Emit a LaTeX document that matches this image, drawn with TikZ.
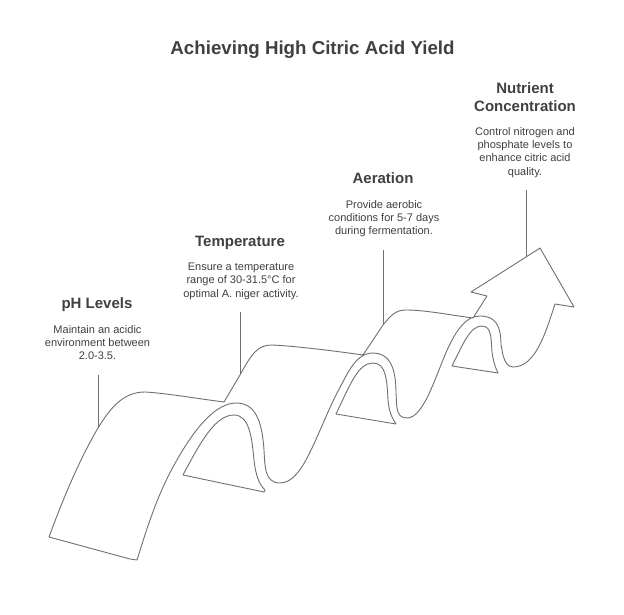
\documentclass[tikz,border=0pt]{standalone}
\usepackage{fontspec}
\setmainfont{Liberation Sans}
\definecolor{ink}{HTML}{404040}
\definecolor{stroke}{HTML}{707070}
\tikzset{
  headtext/.style={text=ink,font=\fontsize{15}{18}\selectfont\bfseries,align=center,inner sep=0pt,anchor=base},
  bodytext/.style={text=ink,font=\fontsize{11}{13.4}\selectfont,align=center,inner sep=0pt,anchor=north},
  ribbon/.style={draw=stroke,line width=0.9pt,line join=round},
  leader/.style={draw=stroke,line width=0.9pt}
}
\begin{document}
\begin{tikzpicture}[x=1pt,y=-1pt]
\useasboundingbox (0,0) rectangle (624,615);
\fill[white] (0,0) rectangle (624,615);
\node[text=ink,font=\fontsize{18.7}{21}\selectfont\bfseries,inner sep=0pt,anchor=base] (title) at (312.5,55) {Achieving High Citric Acid Yield};
\node[headtext] (h1) at (97,308) {pH Levels};
\node[bodytext] (b1) at (97.5,325) {Maintain an acidic\\environment between\\2.0-3.5.};
\node[headtext] (h2) at (240,246) {Temperature};
\node[bodytext] (b2) at (241,262.5) {Ensure a temperature\\range of 30-31.5°C for\\optimal A. niger activity.};
\node[headtext] (h3) at (383,183) {Aeration};
\node[bodytext] (b3) at (384,200) {Provide aerobic\\conditions for 5-7 days\\during fermentation.};
\node[headtext] (h4) at (525,111.5) {Nutrient\\Concentration};
\node[bodytext] (b4) at (525,127) {Control nitrogen and\\phosphate levels to\\enhance citric acid\\quality.};
\coordinate (l1) at (98,428);
\coordinate (l2) at (240,375);
\coordinate (l3) at (383,325);
\coordinate (l4) at (526,257);
\path[leader] (98,375) -- (l1);
\path[leader] (240,312) -- (l2);
\path[leader] (383,250) -- (l3);
\path[leader] (526,190) -- (l4);
% main ribbon and arrow
\path[ribbon] (49,537) .. controls (68,485) and (85,450) .. (98,428)
  .. controls (112,405) and (125,392) .. (145,392)
  .. controls (165,393) and (200,399) .. (224,402)
  -- (l2)
  .. controls (252,353) and (258,345) .. (272,345)
  .. controls (295,346) and (335,351) .. (363,355)
  -- (l3)
  .. controls (391,315) and (396,310) .. (406,310)
  .. controls (425,310) and (450,315) .. (473,318)
  -- (487,296) -- (471,292) -- (l4) -- (540,248) -- (574,307) -- (555,304)
  .. controls (545,335) and (535,367) .. (513,367)
  .. controls (502,367) and (502,345) .. (501,345)
  .. controls (501,325) and (495,316) .. (480,316)
  .. controls (466,316) and (457,330) .. (450,344)
  .. controls (437,370) and (425,418) .. (407,418)
  .. controls (395,418) and (397,405) .. (396,393)
  .. controls (396,365) and (388,353) .. (373,353)
  .. controls (355,353) and (347,375) .. (337,393)
  .. controls (315,437) and (303,483) .. (280,483)
  .. controls (264,483) and (265,465) .. (264,450)
  .. controls (262,420) and (255,403) .. (236,403)
  .. controls (210,403) and (185,445) .. (173,467)
  .. controls (155,500) and (145,535) .. (137,560)
  -- (130,559) -- cycle;
% inner arches
\path[ribbon] (183,475) .. controls (200,443) and (215,415) .. (234,415)
  .. controls (250,415) and (252,440) .. (254,460)
  .. controls (256,478) and (260,485) .. (265,490)
  -- (264,492) -- cycle;
\path[ribbon] (336,414) .. controls (350,385) and (358,363) .. (373,363)
  .. controls (386,363) and (387,380) .. (388,400)
  .. controls (389,412) and (392,418) .. (396,424)
  -- cycle;
\path[ribbon] (452,366) .. controls (463,344) and (470,326) .. (482,326)
  .. controls (492,326) and (491,340) .. (492,352)
  .. controls (493,360) and (495,367) .. (498,373)
  -- cycle;
\end{tikzpicture}
\end{document}
